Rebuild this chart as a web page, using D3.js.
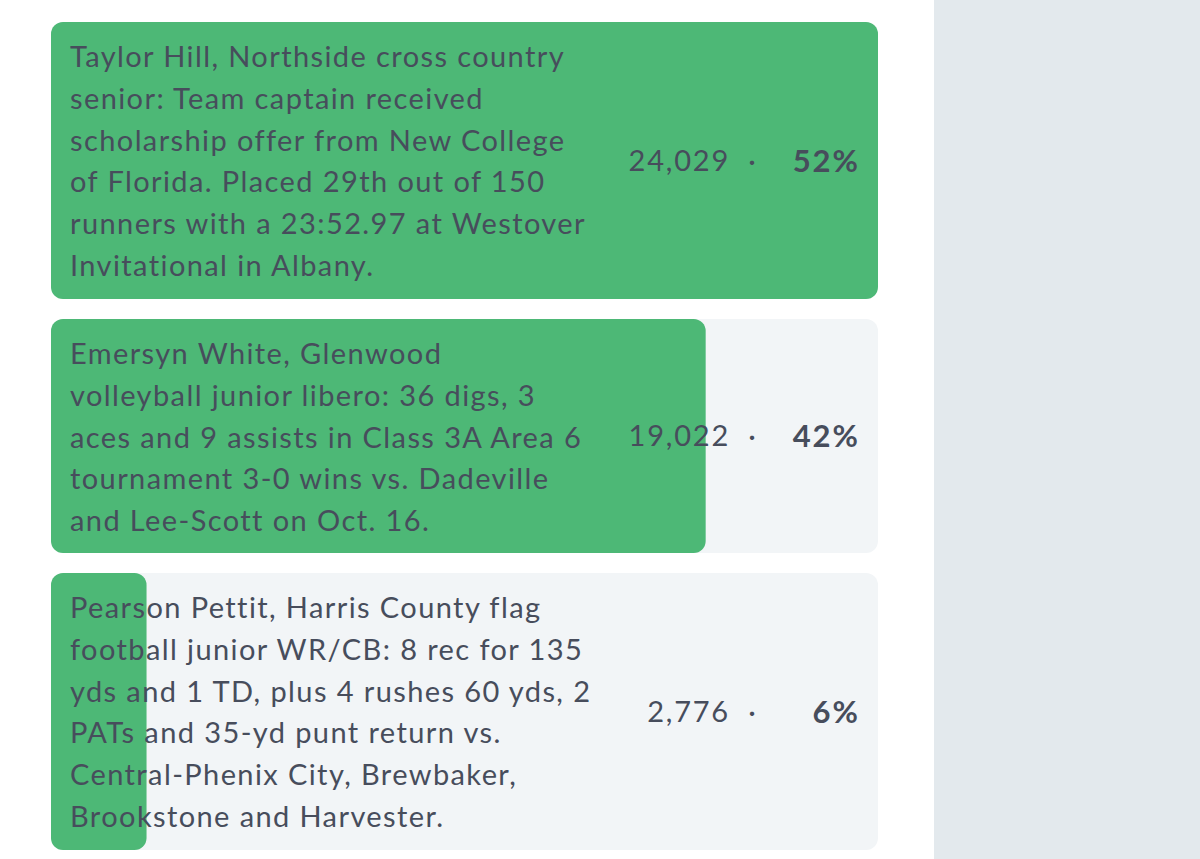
<!DOCTYPE html>
<html><head><meta charset="utf-8">
<script src="https://cdn.jsdelivr.net/npm/d3@7"></script>
<style>
html,body{margin:0;padding:0;background:#fff;}
svg{display:block;}
</style></head>
<body>
<svg id="c" width="1200" height="859"></svg>
<script>
const labels = [
  ["Taylor Hill, Northside cross country","senior: Team captain received","scholarship offer from New College","of Florida. Placed 29th out of 150","runners with a 23:52.97 at Westover","Invitational in Albany."],
  ["Emersyn White, Glenwood","volleyball junior libero: 36 digs, 3","aces and 9 assists in Class 3A Area 6","tournament 3-0 wins vs. Dadeville","and Lee-Scott on Oct. 16."],
  ["Pearson Pettit, Harris County flag","football junior WR/CB: 8 rec for 135","yds and 1 TD, plus 4 rushes 60 yds, 2","PATs and 35-yd punt return vs.","Central-Phenix City, Brewbaker,","Brookstone and Harvester."]
];
const votes = [24029, 19022, 2776];
const percents = ["52%", "42%", "6%"];

const svg = d3.select("#c");
const W = 1200, H = 859;
svg.append("rect").attr("x",934).attr("y",0).attr("width",W-934).attr("height",H).attr("fill","#e3e9ed");

const boxX = 51, boxW = 827, lineH = 41.8, padTop = 45, gap = 20;
const x = d3.scaleLinear().domain([0, d3.max(votes)]).range([0, boxW]);
const fmt = d3.format(",");
const font = "Lato, 'Noto Sans', sans-serif";
const textColor = "#474d5c";
const fs = 29, ls = 1.4;

let y = 22;
labels.forEach((lines, i) => {
  const h = i === 1 ? 234 : 277;
  const g = svg.append("g").attr("transform", `translate(0,${y})`);
  g.append("rect").attr("x", boxX).attr("y", 0).attr("width", boxW).attr("height", h)
    .attr("rx", 12).attr("fill", "#f2f5f7");
  g.append("rect").attr("x", boxX).attr("y", 0).attr("width", x(votes[i])).attr("height", h)
    .attr("rx", 12).attr("fill", "#4db876");
  const t = g.append("text").attr("x", 70).attr("y", padTop)
    .attr("font-family", font).attr("font-size", fs).attr("letter-spacing", ls).attr("fill", textColor);
  lines.forEach((l, j) => {
    t.append("tspan").attr("x", 70).attr("y", padTop + j*lineH).text(l);
  });
  const cy = h/2 + 10;
  g.append("text").attr("x", 730).attr("y", cy).attr("text-anchor","end")
    .attr("font-family", font).attr("font-size", fs).attr("letter-spacing", 1.8).attr("fill", textColor).text(fmt(votes[i]));
  g.append("text").attr("x", 752).attr("y", cy).attr("text-anchor","middle")
    .attr("font-family", font).attr("font-size", fs).attr("fill", textColor).text("·");
  g.append("text").attr("x", 860).attr("y", cy + 1).attr("text-anchor","end")
    .attr("font-family", font).attr("font-size", 31).attr("letter-spacing", 2).attr("font-weight", 700).attr("fill", textColor).text(percents[i]);
  y += h + gap;
});
</script>
</body></html>
